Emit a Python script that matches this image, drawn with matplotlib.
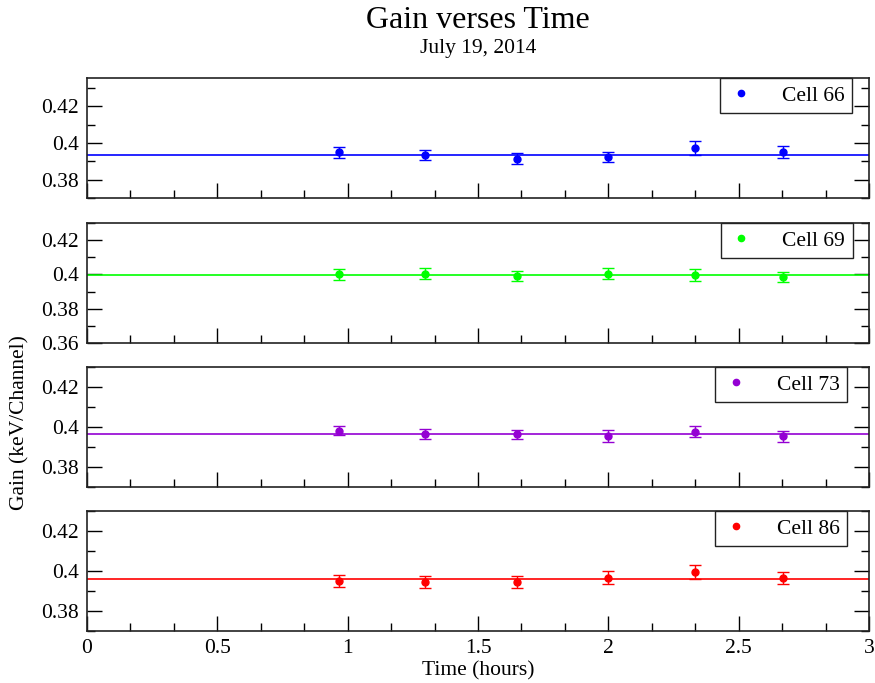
import numpy as np
import matplotlib.pyplot as plt
from matplotlib.lines import Line2D
from matplotlib.ticker import MultipleLocator, FormatStrFormatter

plt.rcParams['font.family'] = ['Liberation Serif', 'DejaVu Serif']
plt.rcParams['font.size'] = 15.5

# measurement times (hours)
times = [0.967, 1.297, 1.65, 2.0, 2.333, 2.67]

cells = ['Cell 66', 'Cell 69', 'Cell 73', 'Cell 86']

gain_66 = [0.3949, 0.3936, 0.3913, 0.3924, 0.3973, 0.3949]
err_66 = [0.0028, 0.0028, 0.0030, 0.0026, 0.0038, 0.0033]

gain_69 = [0.4000, 0.4004, 0.3990, 0.4004, 0.3996, 0.3985]
err_69 = [0.0034, 0.0032, 0.0031, 0.0032, 0.0036, 0.0032]

gain_73 = [0.3982, 0.3965, 0.3963, 0.3956, 0.3976, 0.3953]
err_73 = [0.0024, 0.0027, 0.0024, 0.0029, 0.0028, 0.0029]

gain_86 = [0.3948, 0.3945, 0.3945, 0.3967, 0.3995, 0.3965]
err_86 = [0.0030, 0.0028, 0.0032, 0.0032, 0.0033, 0.0032]

# constant fits
fit_gain = [0.3936, 0.3999, 0.3966, 0.3958]

gains = [gain_66, gain_69, gain_73, gain_86]
errs = [err_66, err_69, err_73, err_86]
colors = ['#0000ff', '#00ff00', '#9400d3', '#ff0000']
ylims = [(0.37, 0.4355), (0.36, 0.43), (0.37, 0.43), (0.37, 0.43)]
tops = [78, 223, 367, 511]
leg_right = [0.978, 0.979, 0.972, 0.972]

W, H = 875, 683
fig = plt.figure(figsize=(W / 100, H / 100), dpi=100)

axes = []
for i in range(4):
    left = 87 / W
    width = (869 - 87) / W
    h = 120 / H
    bottom = 1 - tops[i] / H - h
    ax = fig.add_axes([left, bottom, width, h])
    axes.append(ax)

    ax.errorbar(times, gains[i], yerr=errs[i], fmt='o', color=colors[i],
                markersize=5, capsize=4.5, elinewidth=1, capthick=1, zorder=3)
    ax.axhline(fit_gain[i], color=colors[i], lw=1.2, zorder=2)

    ax.set_xlim(0, 3)
    ax.set_ylim(*ylims[i])
    ax.xaxis.set_major_locator(MultipleLocator(0.5))
    ax.xaxis.set_minor_locator(MultipleLocator(0.5 / 3))
    ax.yaxis.set_major_locator(MultipleLocator(0.02))
    ax.yaxis.set_minor_locator(MultipleLocator(0.01))
    ax.xaxis.set_major_formatter(FormatStrFormatter('%g'))
    ax.yaxis.set_major_formatter(FormatStrFormatter('%g'))
    ax.tick_params(which='both', direction='in', left=True, right=True,
                   top=False, bottom=True, labelsize=15.5)
    ax.tick_params(which='major', length=11, width=1, pad=6)
    ax.tick_params(which='minor', length=6, width=1)
    if i < 3:
        ax.tick_params(labelbottom=False)
    for s in ax.spines.values():
        s.set_linewidth(1.2)
        s.set_color('#222222')

    dot = Line2D([], [], ls='none', marker='o', markersize=4.5,
                 color=colors[i])
    leg = ax.legend([dot], [cells[i]], loc='upper right',
                    bbox_to_anchor=(leg_right[i], 1.0),
                    fancybox=False, framealpha=1, edgecolor='#222222',
                    handlelength=1.2, handletextpad=1.3, borderpad=0.35,
                    borderaxespad=0, fontsize=15.5, numpoints=1)
    leg.get_frame().set_linewidth(1)

axes[3].set_xlabel('Time (hours)', fontsize=15.5, labelpad=2)
fig.text(20 / W, 1 - 423 / H, 'Gain (keV/Channel)', rotation=90,
         ha='center', va='center', fontsize=15.5)
fig.text(478 / W, 1 - 20 / H, 'Gain verses Time', ha='center', va='center',
         fontsize=23)
fig.text(478 / W, 1 - 49 / H, 'July 19, 2014', ha='center', va='center',
         fontsize=15.5)

fig.savefig('out.png', dpi=100)
